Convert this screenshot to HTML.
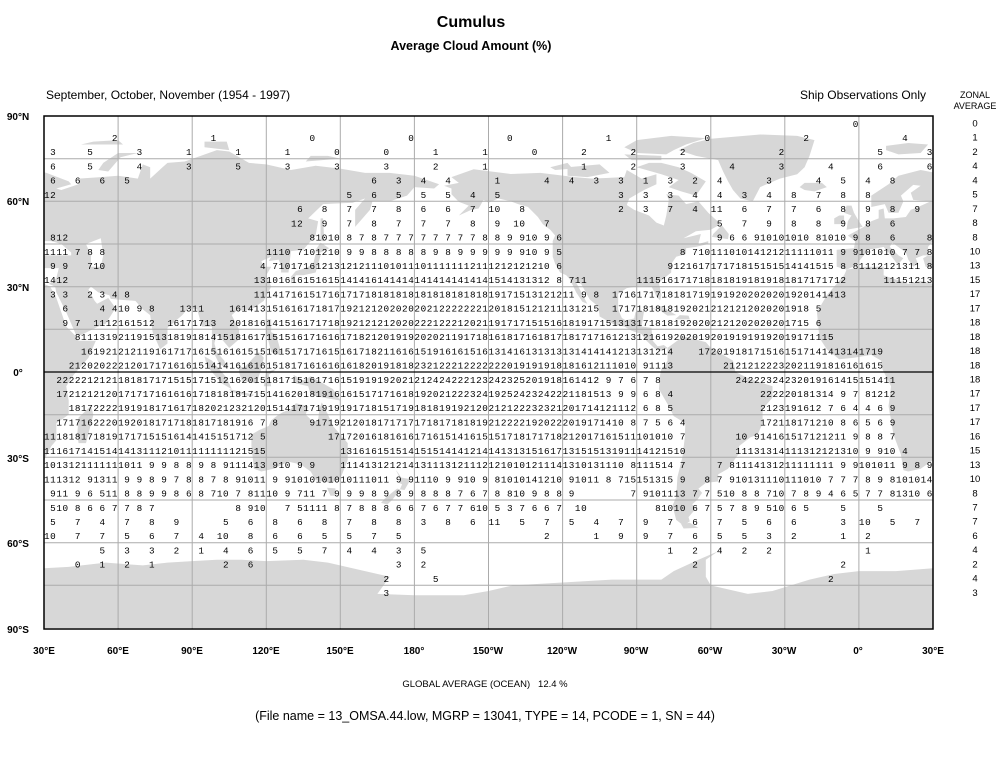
<!DOCTYPE html>
<html><head><meta charset="utf-8"><style>
body{margin:0;background:#fff;}
svg{display:block;}
.d text{white-space:pre;}
</style></head><body>
<svg xmlns="http://www.w3.org/2000/svg" width="998" height="760" viewBox="0 0 998 760" xml:space="preserve">
<rect width="998" height="760" fill="#fff"/>
<text x="471" y="27" text-anchor="middle" font-family="Liberation Sans, sans-serif" font-weight="bold" font-size="16">Cumulus</text>
<text x="471" y="50" text-anchor="middle" font-family="Liberation Sans, sans-serif" font-weight="bold" font-size="12.5">Average Cloud Amount (%)</text>
<text x="46" y="99" font-family="Liberation Sans, sans-serif" font-size="12">September, October, November (1954 - 1997)</text>
<text x="926" y="99" text-anchor="end" font-family="Liberation Sans, sans-serif" font-size="12">Ship Observations Only</text>
<text x="975" y="98" text-anchor="middle" font-family="Liberation Sans, sans-serif" font-size="9">ZONAL</text>
<text x="975" y="109" text-anchor="middle" font-family="Liberation Sans, sans-serif" font-size="9">AVERAGE</text>
<defs>
<clipPath id="pc"><rect x="44" y="116" width="889" height="513"/></clipPath>
<g id="land" fill="#d7d7d7">
<polygon points="-17,21 -16,12 -13,8 -8,4.5 -2,5 5,6 9,4 9.5,1 13,-5 12,-12 14,-22 17,-29 18,-34.5 20,-35 25,-34 30,-31 33,-26 35,-24 35,-18 40,-15 40,-10 39,-5 42,-1 48,5 51,11 44,11 43,12.5 39,16 37,21 35,26 32.5,30 30,31 25,32 20,31 15,32.5 10,34 10,37 3,37 -5,36 -6,34 -10,30 -13,27"/>
<polygon points="44,-25 47,-25 50,-15 49,-12 44,-16 43.5,-22"/>
<polygon points="-9,37 -9,43 -2,43.5 -1.5,46 -4.5,48 2,51 5,53 8,54 8,57 10,57.5 10.5,54 14,54 19,54.5 21,57 24,58 29,60 22,60.5 21,63 25,65.5 22,65.8 17,62 18,60 16,56 12,56 10.5,59 5,58 5,62 12,66 16,69 25,71 31,70 40,67 41,66 35,64.5 37,64 44,66 44,68 53,68.5 60,69 68,68 70,73 73,72 73,68 78,72 80,73.5 87,74 100,78 105,77.5 113,73.5 120,73 130,71 140,72.5 150,71.5 160,70 170,70 180,69 190,66 188,64.5 180,65 177,62 170,60 163,60 162,57 156,51 156,57 160,61 155,59.5 143,59 137,54 141,53 140,48 135,43 130,42.5 129,35 126,35 126,37.5 125,39.5 121,39 122,40.5 118,39 119,37 122,37 120,34 122,30 119,25 114,22 108,21.5 106,20 109,15 109,11.5 105,8.5 103,10.5 100,13.5 99,10 100,7 103,4 104,1.3 101,2.8 98,8 98,16 94,16 92,22 88,22 86,20 80,15.5 80,10 77,8 74,14 73,20 70,22 67,25 62,25.3 57,25.7 56.5,27 52,28 49,30 48,29 50.5,25 51.5,24 56,26 59,22.5 55,17 52,16 45,13 43,13 39,21 35,28 34.5,30 32,31 35,33 36,36.5 30,36.5 27,37 26,40 28,41 26,41 23,40 24,38 22,37 20,39.5 19,42 13.5,45.5 12.5,44 16,41 18,40 16,38 15.5,38 12,42 10,44 6,43.3 3,43 3,42 0,39 -1,37.5 -5,36"/>
<polygon points="-5,50 1.5,51 0,53 -2,56 -3,58.5 -5,58.5 -6,56 -3,55 -4.5,53"/>
<polygon points="-10,52 -6,52 -6,55 -8,55 -10,54"/>
<polygon points="-24,65 -22,66.5 -15,66.5 -13,65 -18,63.5 -22,64"/>
<polygon points="130,31 132,34 135,34 140,35 141,38 142,41 140,41.5 139,38 136,36.5 132,35.5 130,33.5"/>
<polygon points="140,42 142,42 145.5,43.5 142,45.5 140,43"/>
<polygon points="142,46 143.5,46 143,54 142,54"/>
<polygon points="120,18.5 122,18.5 122,14 124,13 126,7 125,6 122,7 120,14"/>
<polygon points="109,2 111,1.5 117,7 119,5 118,1 116,-4 110,-3 109,0"/>
<polygon points="95,5.5 98,4 104,-2 106,-6 102,-4 96,2"/>
<polygon points="105,-6 115,-8 114,-8.7 106,-7"/>
<polygon points="119,-5 120,0 124,1 121,-1 122,-5"/>
<polygon points="131,-1 135,-3 138,-1.5 147,-6 150,-10 143,-9 138,-8 137,-5 132,-4"/>
<polygon points="114,-22 114,-26 115,-34 118,-35 123,-34 129,-31.5 134,-32.5 138,-35 140,-38 146,-39 150,-37.5 153,-31 153,-25 147,-19 145,-15 142.5,-10.7 141.5,-13 141,-17 139,-17.5 136,-15 137,-12 132,-11 130,-13 127,-14 125,-15 122,-17 121,-19 117,-20.5"/>
<polygon points="144.6,-40.7 148,-40.9 148,-43.5 146,-43.5"/>
<polygon points="172.5,-34.5 174,-37 178.5,-37.7 176,-41.5 174.5,-41.3 173,-41 171.5,-42 168,-44.5 166.5,-46 169,-46.6 171,-45 174,-41.5 175,-39.5 173.8,-39 174.6,-37 173,-35"/>
<polygon points="-168,65.5 -162,66.5 -165,68.5 -156,71.3 -141,69.6 -129,70 -115,68.5 -108,68 -95,68.5 -94,71 -88,68 -82,69.5 -82,66 -87,64 -93,61 -94,58.7 -91,57 -85,55 -82,52.5 -79,51.5 -78,55 -77,60.5 -78,62.5 -73,62 -70,59 -65,60 -61,56 -56,52 -60,50 -66,49.5 -71,47 -64,48.5 -65,45 -61,46 -61,45 -66,44 -70,43.5 -70,41.5 -74,40.5 -76,38 -76,35 -81,31.5 -80,27 -80.5,25.2 -82,26.5 -82.7,28 -84,30 -89,30.2 -94,29.5 -97.5,27.5 -97.5,22 -96,19 -94.5,18.2 -91,18.8 -90.5,21 -87,21.5 -88,16 -84,15.5 -83.5,11 -81.5,9 -79,9.5 -77.5,8.5 -79.5,7.5 -81,7.5 -83,8.5 -86,11 -88,13.3 -92,14.5 -95,16 -99,16.6 -105,19.5 -105.5,23 -109,25.5 -112.5,31 -114.7,31.7 -113,29 -110,24 -112,24.7 -114.5,28 -117,32.5 -118.5,34 -121,35 -123,38 -124,40.5 -124,46 -123,48 -125,50 -128,52 -130,54.5 -134,58 -138,59 -141,60 -146,61 -150,59.5 -152,60.5 -154,57.5 -157,57 -162,55 -158,58.5 -162,59.8 -165,62.5 -165,64.5"/>
<polygon points="-73,78 -67,80.5 -60,82 -40,83.5 -25,83 -18,81.5 -20,76 -22,72 -25,69.5 -32,68 -40,65 -43,60 -48,61 -51,64 -53,67 -55,70.5 -57,74.5 -66,76"/>
<polygon points="-80,73.5 -73,72 -68,70 -62,67 -64,64.5 -66,62 -72,63.5 -77,65 -73,67.5 -80,69.5 -90,72 -85,73.5"/>
<polygon points="-90,77 -78,76.5 -75,78 -70,80 -62,82.2 -76,83 -90,81.5 -95,79"/>
<polygon points="-118,72 -105,73 -101,70 -110,68.5 -118,69"/>
<polygon points="-125,72 -118,73.5 -116,71.5 -123,71"/>
<polygon points="-95,76.5 -80,76 -80,74.5 -92,74.5"/>
<polygon points="-85,22 -80,23.2 -74,20 -77.5,19.8 -82,22.5"/>
<polygon points="-74.5,18.5 -68.5,18.5 -69,19.8 -72.5,20"/>
<polygon points="-59.5,47.5 -53,46.7 -52.7,48.5 -55.5,51.6 -59,48.5"/>
<polygon points="-77.5,8.5 -72,12 -70,12.3 -62,10.5 -60,8.5 -55,6 -51,4 -50,0 -44,-2.5 -35,-5 -35,-9 -39,-13 -39,-18 -41,-22 -44,-23 -48.5,-26 -48.5,-28.5 -53,-34 -57,-36 -57,-38.5 -62,-39 -65,-41 -63.5,-42.5 -65.5,-45 -67.5,-46.5 -66,-48 -69,-51 -68.5,-52.5 -71,-54 -74,-52 -75.5,-47 -74,-44 -73.5,-37 -71.5,-30 -70.5,-23 -70.3,-18 -75,-15.5 -77,-12 -81,-6 -80.5,-1 -80,1 -78.5,2.5 -77.5,4 -77.5,7"/>
<polygon points="-68.5,-53 -65,-54.8 -71,-55 -72,-53.5"/>
<polygon points="52,71 56,70.5 61,75.5 68,77 60,77 54,73.5"/>
<polygon points="11,78 16,76.5 25,77 28,80 20,80.5 11,79.5"/>
<polygon points="45,80 62,80 60,81.5 50,81"/>
<polygon points="95,79 105,78 104,81 95,81"/>
<polygon points="136,74 150,75 145,76 138,76"/>
<polygon points="-180,-90 -180,-78.5 -160,-78.5 -150,-77 -140,-75 -120,-74 -100,-73 -80,-73 -75,-70 -65,-66 -57,-63 -62,-66 -62,-72 -60,-75 -45,-78 -35,-77 -20,-73 -10,-71 0,-70 15,-70 30,-69 40,-68.5 55,-67 70,-68 80,-67 90,-66.5 100,-66 110,-66 120,-66.5 135,-66 145,-67 160,-70 170,-72 165,-78 180,-78.5 180,-90"/>
<polygon fill="#fff" points="28,41 41,41 41,42 37,45 33,46 30,46 28,44"/>
<polygon fill="#fff" points="47,45 53,47 54,41 53,37 49,37 49,41"/>
</g>
</defs>
<g clip-path="url(#pc)">
<g transform="translate(-30.083,372) scale(2.46944,-2.84444)"><use href="#land"/></g>
<g transform="translate(858.917,372) scale(2.46944,-2.84444)"><use href="#land"/></g>
<g transform="translate(-919.083,372) scale(2.46944,-2.84444)"><use href="#land"/></g>
</g>
<g stroke="#ababab" stroke-width="1">
<line x1="118.1" y1="116" x2="118.1" y2="629"/><line x1="192.2" y1="116" x2="192.2" y2="629"/><line x1="266.3" y1="116" x2="266.3" y2="629"/><line x1="340.3" y1="116" x2="340.3" y2="629"/><line x1="414.4" y1="116" x2="414.4" y2="629"/><line x1="488.5" y1="116" x2="488.5" y2="629"/><line x1="562.6" y1="116" x2="562.6" y2="629"/><line x1="636.7" y1="116" x2="636.7" y2="629"/><line x1="710.8" y1="116" x2="710.8" y2="629"/><line x1="784.8" y1="116" x2="784.8" y2="629"/><line x1="858.9" y1="116" x2="858.9" y2="629"/>
<line x1="44" y1="158.7" x2="933" y2="158.7"/><line x1="44" y1="201.3" x2="933" y2="201.3"/><line x1="44" y1="244" x2="933" y2="244"/><line x1="44" y1="286.7" x2="933" y2="286.7"/><line x1="44" y1="329.3" x2="933" y2="329.3"/><line x1="44" y1="414.7" x2="933" y2="414.7"/><line x1="44" y1="457.3" x2="933" y2="457.3"/><line x1="44" y1="500" x2="933" y2="500"/><line x1="44" y1="542.7" x2="933" y2="542.7"/><line x1="44" y1="585.3" x2="933" y2="585.3"/>
</g>
<line x1="44" y1="372" x2="933" y2="372" stroke="#000" stroke-width="1.3"/>
<rect x="44" y="116" width="889" height="513" fill="none" stroke="#000" stroke-width="1.5"/>
<g font-family="Liberation Sans, sans-serif" font-weight="bold" font-size="10" text-anchor="middle">
<text x="18" y="120">90°N</text><text x="18" y="205">60°N</text><text x="18" y="291">30°N</text><text x="18" y="376">0°</text><text x="18" y="462">30°S</text><text x="18" y="547">60°S</text><text x="18" y="633">90°S</text>
<text x="44" y="654">30°E</text><text x="118" y="654">60°E</text><text x="192" y="654">90°E</text><text x="266" y="654">120°E</text><text x="340" y="654">150°E</text><text x="414" y="654">180°</text><text x="488" y="654">150°W</text><text x="562" y="654">120°W</text><text x="636" y="654">90°W</text><text x="710" y="654">60°W</text><text x="784" y="654">30°W</text><text x="858" y="654">0°</text><text x="933" y="654">30°E</text>
</g>
<text x="485" y="687" text-anchor="middle" font-family="Liberation Sans, sans-serif" font-size="9.5">GLOBAL AVERAGE (OCEAN)&#160;&#160; 12.4 %</text>
<text x="485" y="720" text-anchor="middle" font-family="Liberation Sans, sans-serif" font-size="12.5">(File name = 13_OMSA.44.low, MGRP = 13041, TYPE = 14, PCODE = 1, SN = 44)</text>
<g font-family="Liberation Sans, sans-serif" font-size="9.5" text-anchor="middle">
<text x="975" y="126.5">0</text><text x="975" y="140.7">1</text><text x="975" y="154.9">2</text><text x="975" y="169.2">4</text><text x="975" y="183.4">4</text><text x="975" y="197.6">5</text><text x="975" y="211.8">7</text><text x="975" y="226.1">8</text><text x="975" y="240.3">8</text><text x="975" y="254.5">10</text><text x="975" y="268.7">13</text><text x="975" y="282.9">15</text><text x="975" y="297.2">17</text><text x="975" y="311.4">17</text><text x="975" y="325.6">18</text><text x="975" y="339.8">18</text><text x="975" y="354.1">18</text><text x="975" y="368.3">18</text><text x="975" y="382.5">18</text><text x="975" y="396.7">17</text><text x="975" y="410.9">17</text><text x="975" y="425.2">17</text><text x="975" y="439.4">16</text><text x="975" y="453.6">15</text><text x="975" y="467.8">13</text><text x="975" y="482.1">10</text><text x="975" y="496.3">8</text><text x="975" y="510.5">7</text><text x="975" y="524.7">7</text><text x="975" y="538.9">6</text><text x="975" y="553.2">4</text><text x="975" y="567.4">2</text><text x="975" y="581.6">4</text><text x="975" y="595.8">3</text>
</g>
<g class="d" font-family="Liberation Mono, monospace" font-size="9.3" letter-spacing="0.594" fill="#000">
<text y="126.8"><tspan x="784.83">           0</tspan></text>
<text y="141.0"><tspan x="44">           2</tspan><tspan x="192.17">   1</tspan><tspan x="266.25">       0</tspan><tspan x="340.33">           0</tspan><tspan x="488.5">   0</tspan><tspan x="562.58">       1</tspan><tspan x="636.67">           0</tspan><tspan x="784.83">   2</tspan><tspan x="858.92">       4</tspan></text>
<text y="155.2"><tspan x="44"> 3     5</tspan><tspan x="118.08">   3       1</tspan><tspan x="192.17">       1</tspan><tspan x="266.25">   1       0</tspan><tspan x="340.33">       0</tspan><tspan x="414.42">   1       1</tspan><tspan x="488.5">       0</tspan><tspan x="562.58">   2       2</tspan><tspan x="636.67">       2</tspan><tspan x="710.75">           2</tspan><tspan x="858.92">   5       3</tspan></text>
<text y="169.5"><tspan x="44"> 6     5</tspan><tspan x="118.08">   4       3</tspan><tspan x="192.17">       5</tspan><tspan x="266.25">   3       3</tspan><tspan x="340.33">       3</tspan><tspan x="414.42">   2       1</tspan><tspan x="562.58">   1       2</tspan><tspan x="636.67">       3</tspan><tspan x="710.75">   4       3</tspan><tspan x="784.83">       4</tspan><tspan x="858.92">   6       6</tspan></text>
<text y="183.7"><tspan x="44"> 6   6   6</tspan><tspan x="118.08"> 5</tspan><tspan x="340.33">     6   3</tspan><tspan x="414.42"> 4   4</tspan><tspan x="488.5"> 1       4</tspan><tspan x="562.58"> 4   3   3</tspan><tspan x="636.67"> 1   3   2</tspan><tspan x="710.75"> 4       3</tspan><tspan x="784.83">     4   5</tspan><tspan x="858.92"> 4   8</tspan></text>
<text y="197.9"><tspan x="44">12</tspan><tspan x="340.33"> 5   6   5</tspan><tspan x="414.42"> 5   5   4</tspan><tspan x="488.5"> 5</tspan><tspan x="562.58">         3</tspan><tspan x="636.67"> 3   3   4</tspan><tspan x="710.75"> 4   3   4</tspan><tspan x="784.83"> 8   7   8</tspan><tspan x="858.92"> 8</tspan></text>
<text y="212.1"><tspan x="266.25">     6   8</tspan><tspan x="340.33"> 7   7   8</tspan><tspan x="414.42"> 6   6   7</tspan><tspan x="488.5">10   8</tspan><tspan x="562.58">         2</tspan><tspan x="636.67"> 3   7   4</tspan><tspan x="710.75">11   6   7</tspan><tspan x="784.83"> 7   6   8</tspan><tspan x="858.92"> 9   8   9</tspan></text>
<text y="226.4"><tspan x="266.25">    12   9</tspan><tspan x="340.33"> 7   8   7</tspan><tspan x="414.42"> 7   7   8</tspan><tspan x="488.5"> 9  10   7</tspan><tspan x="710.75"> 5   7   9</tspan><tspan x="784.83"> 8   8   9</tspan><tspan x="858.92"> 8   6</tspan></text>
<text y="240.6"><tspan x="44"> 812</tspan><tspan x="266.25">       81010</tspan><tspan x="340.33"> 8 7 8 7 7 7</tspan><tspan x="414.42"> 7 7 7 7 7 8</tspan><tspan x="488.5"> 8 9 910 9 6</tspan><tspan x="710.75"> 9 6 6 91010</tspan><tspan x="784.83">1010 81010 9</tspan><tspan x="858.92"> 8   6     8</tspan></text>
<text y="254.8"><tspan x="44">1111 7 8 8</tspan><tspan x="266.25">1110 7101210</tspan><tspan x="340.33"> 9 9 8 8 8 8</tspan><tspan x="414.42"> 8 9 8 9 9 9</tspan><tspan x="488.5"> 9 9 910 9 5</tspan><tspan x="636.67">       8 710</tspan><tspan x="710.75">111010141212</tspan><tspan x="784.83">11111011 9 9</tspan><tspan x="858.92">101010 7 7 8</tspan></text>
<text y="269.0"><tspan x="44"> 9 9   710</tspan><tspan x="192.17">           4</tspan><tspan x="266.25"> 71017161213</tspan><tspan x="340.33">121211101011</tspan><tspan x="414.42">101111111211</tspan><tspan x="488.5">1212121210 6</tspan><tspan x="636.67">     9121617</tspan><tspan x="710.75">171718151515</tspan><tspan x="784.83">14141515 8 8</tspan><tspan x="858.92">1112121311 8</tspan></text>
<text y="283.2"><tspan x="44">1412</tspan><tspan x="192.17">          13</tspan><tspan x="266.25">101616151615</tspan><tspan x="340.33">141416141414</tspan><tspan x="414.42">141414141414</tspan><tspan x="488.5">1514131312 8</tspan><tspan x="562.58"> 711</tspan><tspan x="636.67">111516171718</tspan><tspan x="710.75">181819181918</tspan><tspan x="784.83">1817171712</tspan><tspan x="858.92">    11151213</tspan></text>
<text y="297.5"><tspan x="44"> 3 3   2 3 4</tspan><tspan x="118.08"> 8</tspan><tspan x="192.17">          11</tspan><tspan x="266.25">141716151716</tspan><tspan x="340.33">171718181818</tspan><tspan x="414.42">181818181818</tspan><tspan x="488.5">191715131212</tspan><tspan x="562.58">11 9 8  1716</tspan><tspan x="636.67">171718181719</tspan><tspan x="710.75">191920202020</tspan><tspan x="784.83">1920141413</tspan></text>
<text y="311.7"><tspan x="44">   6     4 4</tspan><tspan x="118.08">10 9 8    13</tspan><tspan x="192.17">11    161413</tspan><tspan x="266.25">151616171817</tspan><tspan x="340.33">192121202020</tspan><tspan x="414.42">202122222221</tspan><tspan x="488.5">201815121211</tspan><tspan x="562.58">131215  1717</tspan><tspan x="636.67">181818192021</tspan><tspan x="710.75">212121202020</tspan><tspan x="784.83">1918 5</tspan></text>
<text y="325.9"><tspan x="44">   9 7  1112</tspan><tspan x="118.08">161512  1617</tspan><tspan x="192.17">1713  201816</tspan><tspan x="266.25">141516171718</tspan><tspan x="340.33">192121212020</tspan><tspan x="414.42">222122212021</tspan><tspan x="488.5">191717151516</tspan><tspan x="562.58">181917151313</tspan><tspan x="636.67">171818192020</tspan><tspan x="710.75">212120202020</tspan><tspan x="784.83">1715 6</tspan></text>
<text y="340.1"><tspan x="44">     8111319</tspan><tspan x="118.08">211915131819</tspan><tspan x="192.17">181415181617</tspan><tspan x="266.25">151516171616</tspan><tspan x="340.33">171821201919</tspan><tspan x="414.42">202021191718</tspan><tspan x="488.5">161817161817</tspan><tspan x="562.58">181717161213</tspan><tspan x="636.67">121619202019</tspan><tspan x="710.75">201919191920</tspan><tspan x="784.83">19171115</tspan></text>
<text y="354.4"><tspan x="44">      161921</tspan><tspan x="118.08">212119161717</tspan><tspan x="192.17">161516161515</tspan><tspan x="266.25">161517171615</tspan><tspan x="340.33">161718211616</tspan><tspan x="414.42">151916161516</tspan><tspan x="488.5">131416131313</tspan><tspan x="562.58">131414141213</tspan><tspan x="636.67">131214    17</tspan><tspan x="710.75">201918171516</tspan><tspan x="784.83">151714141314</tspan><tspan x="858.92">1719</tspan></text>
<text y="368.6"><tspan x="44">    21202022</tspan><tspan x="118.08">212017171616</tspan><tspan x="192.17">151414161616</tspan><tspan x="266.25">151817161616</tspan><tspan x="340.33">161820191818</tspan><tspan x="414.42">232122212222</tspan><tspan x="488.5">222019191918</tspan><tspan x="562.58">181612111010</tspan><tspan x="636.67"> 91113</tspan><tspan x="710.75">  2121212223</tspan><tspan x="784.83">202119181616</tspan><tspan x="858.92">1615</tspan></text>
<text y="382.8"><tspan x="44">  2222212121</tspan><tspan x="118.08">181817171515</tspan><tspan x="192.17">171512162015</tspan><tspan x="266.25">181715161716</tspan><tspan x="340.33">151919192021</tspan><tspan x="414.42">212424222123</tspan><tspan x="488.5">242325201918</tspan><tspan x="562.58">161412 9 7 6</tspan><tspan x="636.67"> 7 8</tspan><tspan x="710.75">    24222324</tspan><tspan x="784.83">232019161415</tspan><tspan x="858.92">151411</tspan></text>
<text y="397.0"><tspan x="44">  1721212120</tspan><tspan x="118.08">171717161616</tspan><tspan x="192.17">171818181715</tspan><tspan x="266.25">141620181916</tspan><tspan x="340.33">161517171618</tspan><tspan x="414.42">192021222324</tspan><tspan x="488.5">192524232422</tspan><tspan x="562.58">21181513 9 9</tspan><tspan x="636.67"> 6 8 4</tspan><tspan x="710.75">        2222</tspan><tspan x="784.83">20181314 9 7</tspan><tspan x="858.92"> 81212</tspan></text>
<text y="411.2"><tspan x="44">    18172222</tspan><tspan x="118.08">191918171617</tspan><tspan x="192.17">182021232120</tspan><tspan x="266.25">151417171919</tspan><tspan x="340.33">191718151719</tspan><tspan x="414.42">181819192120</tspan><tspan x="488.5">212122232321</tspan><tspan x="562.58">201714121112</tspan><tspan x="636.67"> 6 8 5</tspan><tspan x="710.75">        2123</tspan><tspan x="784.83">191612 7 6 4</tspan><tspan x="858.92"> 4 6 9</tspan></text>
<text y="425.5"><tspan x="44">  1717162220</tspan><tspan x="118.08">192018171718</tspan><tspan x="192.17">1817181916 7</tspan><tspan x="266.25"> 8     91719</tspan><tspan x="340.33">212018171717</tspan><tspan x="414.42">171817181819</tspan><tspan x="488.5">212222192022</tspan><tspan x="562.58">2019171410 8</tspan><tspan x="636.67"> 7 5 6 4</tspan><tspan x="710.75">        1721</tspan><tspan x="784.83">18171210 8 6</tspan><tspan x="858.92"> 5 6 9</tspan></text>
<text y="439.7"><tspan x="44">111818171819</tspan><tspan x="118.08">171715151614</tspan><tspan x="192.17">1415151712 5</tspan><tspan x="266.25">          17</tspan><tspan x="340.33">172016181616</tspan><tspan x="414.42">171615141615</tspan><tspan x="488.5">151718171718</tspan><tspan x="562.58">212017161511</tspan><tspan x="636.67">101010 7</tspan><tspan x="710.75">    10 91416</tspan><tspan x="784.83">1517121211 9</tspan><tspan x="858.92"> 8 8 7</tspan></text>
<text y="453.9"><tspan x="44">111617141514</tspan><tspan x="118.08">141311121011</tspan><tspan x="192.17">111111121515</tspan><tspan x="340.33">131616151514</tspan><tspan x="414.42">151514141214</tspan><tspan x="488.5">141313151617</tspan><tspan x="562.58">131515131911</tspan><tspan x="636.67">14121510</tspan><tspan x="710.75">    11131314</tspan><tspan x="784.83">111312121310</tspan><tspan x="858.92"> 9 910 4</tspan></text>
<text y="468.1"><tspan x="44">101312111111</tspan><tspan x="118.08">1011 9 9 8 8</tspan><tspan x="192.17"> 9 8 9111413</tspan><tspan x="266.25"> 910 9 9</tspan><tspan x="340.33">111413121214</tspan><tspan x="414.42">131113121112</tspan><tspan x="488.5">121010121114</tspan><tspan x="562.58">1310131110 8</tspan><tspan x="636.67">111514 7</tspan><tspan x="710.75"> 7 811141312</tspan><tspan x="784.83">11111111 9 9</tspan><tspan x="858.92">101011 9 8 9</tspan></text>
<text y="482.4"><tspan x="44">111312 91311</tspan><tspan x="118.08"> 9 9 8 9 7 8</tspan><tspan x="192.17"> 8 7 8 91011</tspan><tspan x="266.25"> 9 910101010</tspan><tspan x="340.33">10111011 9 9</tspan><tspan x="414.42">1110 9 910 9</tspan><tspan x="488.5"> 81010141210</tspan><tspan x="562.58"> 91011 8 715</tspan><tspan x="636.67">151315 9   8</tspan><tspan x="710.75"> 7 910131110</tspan><tspan x="784.83">111010 7 7 7</tspan><tspan x="858.92"> 8 9 8101014</tspan></text>
<text y="496.6"><tspan x="44"> 911 9 6 511</tspan><tspan x="118.08"> 8 8 9 9 8 6</tspan><tspan x="192.17"> 8 710 7 811</tspan><tspan x="266.25">10 9 711 7 9</tspan><tspan x="340.33"> 9 9 8 9 8 9</tspan><tspan x="414.42"> 8 8 8 7 6 7</tspan><tspan x="488.5"> 8 810 9 8 8</tspan><tspan x="562.58"> 9         7</tspan><tspan x="636.67"> 9101113 7 7</tspan><tspan x="710.75"> 510 8 8 710</tspan><tspan x="784.83"> 7 8 9 4 6 5</tspan><tspan x="858.92"> 7 7 81310 6</tspan></text>
<text y="510.8"><tspan x="44"> 510 8 6 6 7</tspan><tspan x="118.08"> 7 8 7</tspan><tspan x="192.17">       8 910</tspan><tspan x="266.25">   7 51111 8</tspan><tspan x="340.33"> 7 8 8 8 6 6</tspan><tspan x="414.42"> 7 6 7 7 610</tspan><tspan x="488.5"> 5 3 7 6 6 7</tspan><tspan x="562.58">  10</tspan><tspan x="636.67">   81010 6 7</tspan><tspan x="710.75"> 5 7 8 9 510</tspan><tspan x="784.83"> 6 5     5</tspan><tspan x="858.92">   5</tspan></text>
<text y="525.0"><tspan x="44"> 5   7   4</tspan><tspan x="118.08"> 7   8   9</tspan><tspan x="192.17">     5   6</tspan><tspan x="266.25"> 8   6   8</tspan><tspan x="340.33"> 7   8   8</tspan><tspan x="414.42"> 3   8   6</tspan><tspan x="488.5">11   5   7</tspan><tspan x="562.58"> 5   4   7</tspan><tspan x="636.67"> 9   7   6</tspan><tspan x="710.75"> 7   5   6</tspan><tspan x="784.83"> 6       3</tspan><tspan x="858.92">10   5   7</tspan></text>
<text y="539.2"><tspan x="44">10   7   7</tspan><tspan x="118.08"> 5   6   7</tspan><tspan x="192.17"> 4  10   8</tspan><tspan x="266.25"> 6   6   5</tspan><tspan x="340.33"> 5   7   5</tspan><tspan x="488.5">         2</tspan><tspan x="562.58">     1   9</tspan><tspan x="636.67"> 9   7   6</tspan><tspan x="710.75"> 5   5   3</tspan><tspan x="784.83"> 2       1</tspan><tspan x="858.92"> 2</tspan></text>
<text y="553.5"><tspan x="44">         5</tspan><tspan x="118.08"> 3   3   2</tspan><tspan x="192.17"> 1   4   6</tspan><tspan x="266.25"> 5   5   7</tspan><tspan x="340.33"> 4   4   3</tspan><tspan x="414.42"> 5</tspan><tspan x="636.67">     1   2</tspan><tspan x="710.75"> 4   2   2</tspan><tspan x="858.92"> 1</tspan></text>
<text y="567.7"><tspan x="44">     0   1</tspan><tspan x="118.08"> 2   1</tspan><tspan x="192.17">     2   6</tspan><tspan x="340.33">         3</tspan><tspan x="414.42"> 2</tspan><tspan x="636.67">         2</tspan><tspan x="784.83">         2</tspan></text>
<text y="581.9"><tspan x="340.33">       2</tspan><tspan x="414.42">   5</tspan><tspan x="784.83">       2</tspan></text>
<text y="596.1"><tspan x="340.33">       3</tspan></text>
</g>
</svg>
</body></html>
